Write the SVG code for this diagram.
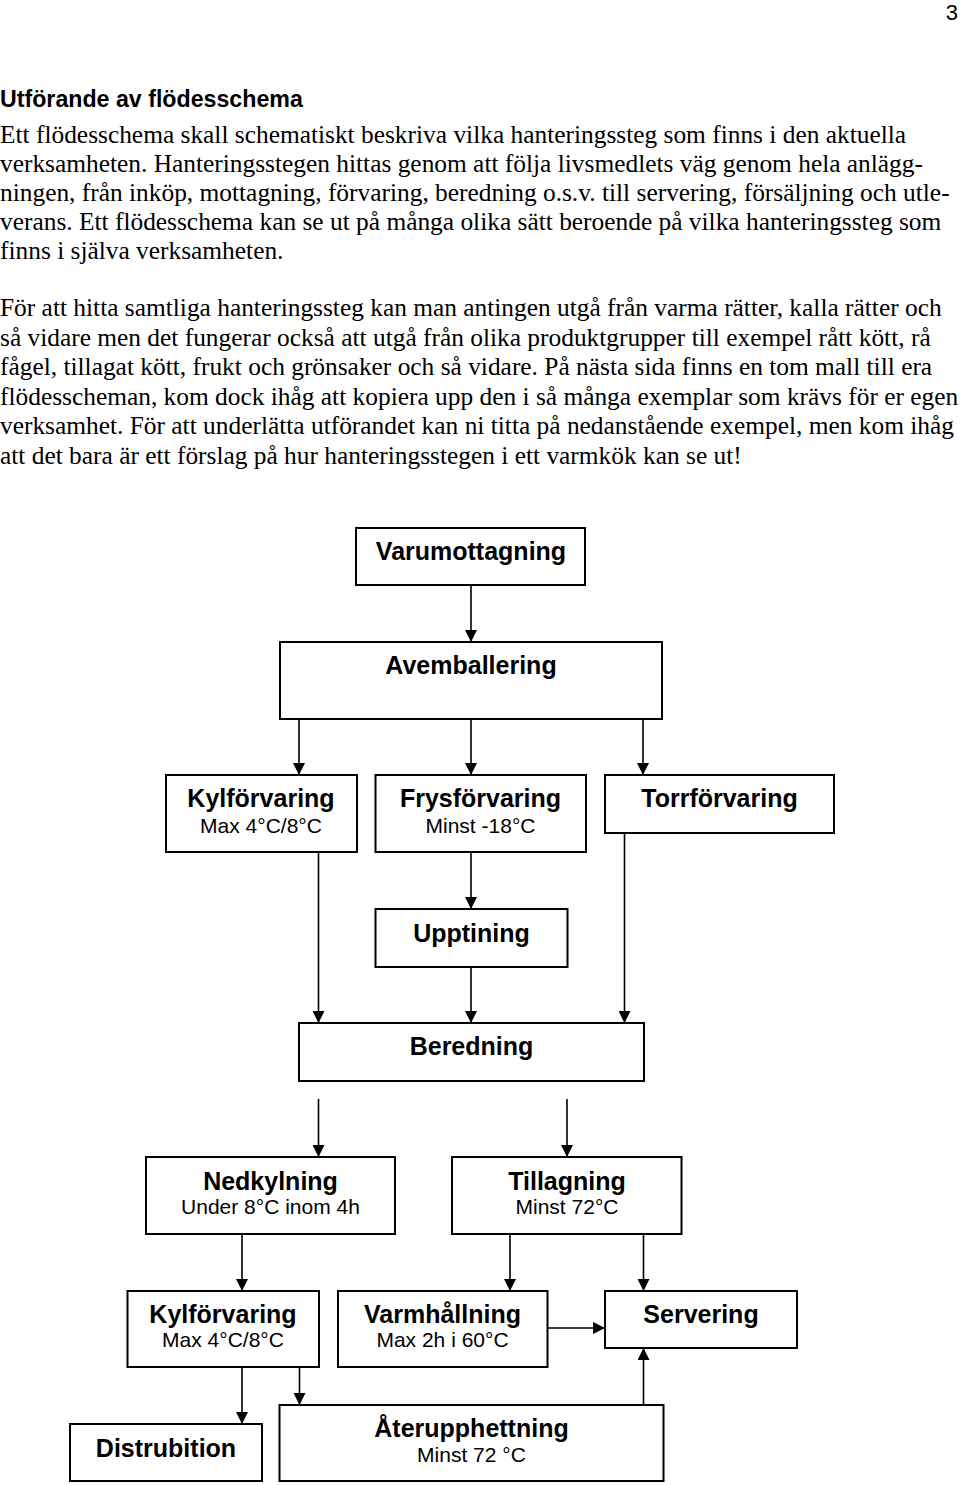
<svg xmlns="http://www.w3.org/2000/svg" width="960" height="1485" viewBox="0 0 960 1485">
<style>
.bg{fill:#fff}
.box{fill:#fff;stroke:#000;stroke-width:2}
.con{stroke:#000;stroke-width:1.6;fill:none;marker-end:url(#ah)}
.body{font-family:"Liberation Serif","Times New Roman",serif;font-size:25.4px;fill:#000}
.title{font-family:"Liberation Sans",Arial,sans-serif;font-size:23.2px;font-weight:bold;fill:#000}
.pg{font-family:"Liberation Sans",Arial,sans-serif;font-size:22px;fill:#000}
.lb{font-family:"Liberation Sans",Arial,sans-serif;font-size:25px;font-weight:bold;fill:#000;text-anchor:middle}
.sb{font-family:"Liberation Sans",Arial,sans-serif;font-size:21px;fill:#000;text-anchor:middle}
</style>
<defs>
<marker id="ah" viewBox="0 0 10 10" markerUnits="userSpaceOnUse" markerWidth="12" markerHeight="12" refX="10" refY="5" orient="auto">
<path d="M0,0 L10,5 L0,10 z" fill="#000"/>
</marker>
</defs>
<rect class="bg" x="0" y="0" width="960" height="1485"/>
<g id="page-text">
<text class="pg" x="958" y="20" text-anchor="end">3</text>
<text class="title" x="0" y="107">Utförande av flödesschema</text>
<text class="body" x="0" y="142.5">Ett flödesschema skall schematiskt beskriva vilka hanteringssteg som finns i den aktuella</text>
<text class="body" x="0" y="171.5">verksamheten. Hanteringsstegen hittas genom att följa livsmedlets väg genom hela anlägg-</text>
<text class="body" x="0" y="200.5">ningen, från inköp, mottagning, förvaring, beredning o.s.v. till servering, försäljning och utle-</text>
<text class="body" x="0" y="229.5">verans. Ett flödesschema kan se ut på många olika sätt beroende på vilka hanteringssteg som</text>
<text class="body" x="0" y="258.5">finns i själva verksamheten.</text>
<text class="body" x="0" y="316">För att hitta samtliga hanteringssteg kan man antingen utgå från varma rätter, kalla rätter och</text>
<text class="body" x="0" y="345.5">så vidare men det fungerar också att utgå från olika produktgrupper till exempel rått kött, rå</text>
<text class="body" x="0" y="375">fågel, tillagat kött, frukt och grönsaker och så vidare. På nästa sida finns en tom mall till era</text>
<text class="body" x="0" y="404.5">flödesscheman, kom dock ihåg att kopiera upp den i så många exemplar som krävs för er egen</text>
<text class="body" x="0" y="434">verksamhet. För att underlätta utförandet kan ni titta på nedanstående exempel, men kom ihåg</text>
<text class="body" x="0" y="463.5">att det bara är ett förslag på hur hanteringsstegen i ett varmkök kan se ut!</text>
</g>
<g id="connectors">
<line class="con" x1="471" y1="585" x2="471" y2="642"/>
<line class="con" x1="299" y1="719" x2="299" y2="775"/>
<line class="con" x1="471" y1="719" x2="471" y2="775"/>
<line class="con" x1="643" y1="719" x2="643" y2="775"/>
<line class="con" x1="318.5" y1="852" x2="318.5" y2="1023"/>
<line class="con" x1="471" y1="852" x2="471" y2="909"/>
<line class="con" x1="471" y1="967" x2="471" y2="1023"/>
<line class="con" x1="624.5" y1="833" x2="624.5" y2="1023"/>
<line class="con" x1="318.5" y1="1099" x2="318.5" y2="1157"/>
<line class="con" x1="567" y1="1099" x2="567" y2="1157"/>
<line class="con" x1="242" y1="1234" x2="242" y2="1291"/>
<line class="con" x1="510" y1="1234" x2="510" y2="1291"/>
<line class="con" x1="643.5" y1="1234" x2="643.5" y2="1291"/>
<line class="con" x1="547.5" y1="1328" x2="605" y2="1328"/>
<line class="con" x1="643.5" y1="1405" x2="643.5" y2="1348"/>
<line class="con" x1="242" y1="1367" x2="242" y2="1424"/>
<line class="con" x1="299.5" y1="1367" x2="299.5" y2="1405"/>
</g>
<g id="varumottagning">
<rect class="box" x="356" y="528" width="229" height="57"/>
<text class="lb" x="471" y="560">Varumottagning</text>
</g>
<g id="avemballering">
<rect class="box" x="280" y="642" width="382" height="77"/>
<text class="lb" x="471" y="674">Avemballering</text>
</g>
<g id="kylforvaring1">
<rect class="box" x="166" y="775" width="191" height="77"/>
<text class="lb" x="261" y="807">Kylförvaring</text>
<text class="sb" x="261" y="833">Max 4°C/8°C</text>
</g>
<g id="frysforvaring">
<rect class="box" x="375.5" y="775" width="210.5" height="77"/>
<text class="lb" x="480.5" y="807">Frysförvaring</text>
<text class="sb" x="480.5" y="833">Minst -18°C</text>
</g>
<g id="torrforvaring">
<rect class="box" x="605" y="775" width="229" height="58"/>
<text class="lb" x="719.5" y="807">Torrförvaring</text>
</g>
<g id="upptining">
<rect class="box" x="375.5" y="909" width="192" height="58"/>
<text class="lb" x="471.5" y="942">Upptining</text>
</g>
<g id="beredning">
<rect class="box" x="299" y="1023" width="345" height="58"/>
<text class="lb" x="471.5" y="1055">Beredning</text>
</g>
<g id="nedkylning">
<rect class="box" x="146" y="1157" width="249" height="77"/>
<text class="lb" x="270.5" y="1190">Nedkylning</text>
<text class="sb" x="270.5" y="1214">Under 8°C inom 4h</text>
</g>
<g id="tillagning">
<rect class="box" x="452" y="1157" width="229.5" height="77"/>
<text class="lb" x="567" y="1190">Tillagning</text>
<text class="sb" x="567" y="1214">Minst 72°C</text>
</g>
<g id="kylforvaring2">
<rect class="box" x="127.5" y="1291" width="191.5" height="76"/>
<text class="lb" x="223" y="1323">Kylförvaring</text>
<text class="sb" x="223" y="1347">Max 4°C/8°C</text>
</g>
<g id="varmhallning">
<rect class="box" x="338" y="1291" width="209.5" height="76"/>
<text class="lb" x="442.5" y="1323">Varmhållning</text>
<text class="sb" x="442.5" y="1347">Max 2h i 60°C</text>
</g>
<g id="servering">
<rect class="box" x="605" y="1291" width="192" height="57"/>
<text class="lb" x="701" y="1323">Servering</text>
</g>
<g id="distrubition">
<rect class="box" x="70" y="1424" width="192" height="57"/>
<text class="lb" x="166" y="1457">Distrubition</text>
</g>
<g id="aterupphettning">
<rect class="box" x="279.5" y="1405" width="384" height="76"/>
<text class="lb" x="471.5" y="1437">Återupphettning</text>
<text class="sb" x="471.5" y="1462">Minst 72 °C</text>
</g>
</svg>
